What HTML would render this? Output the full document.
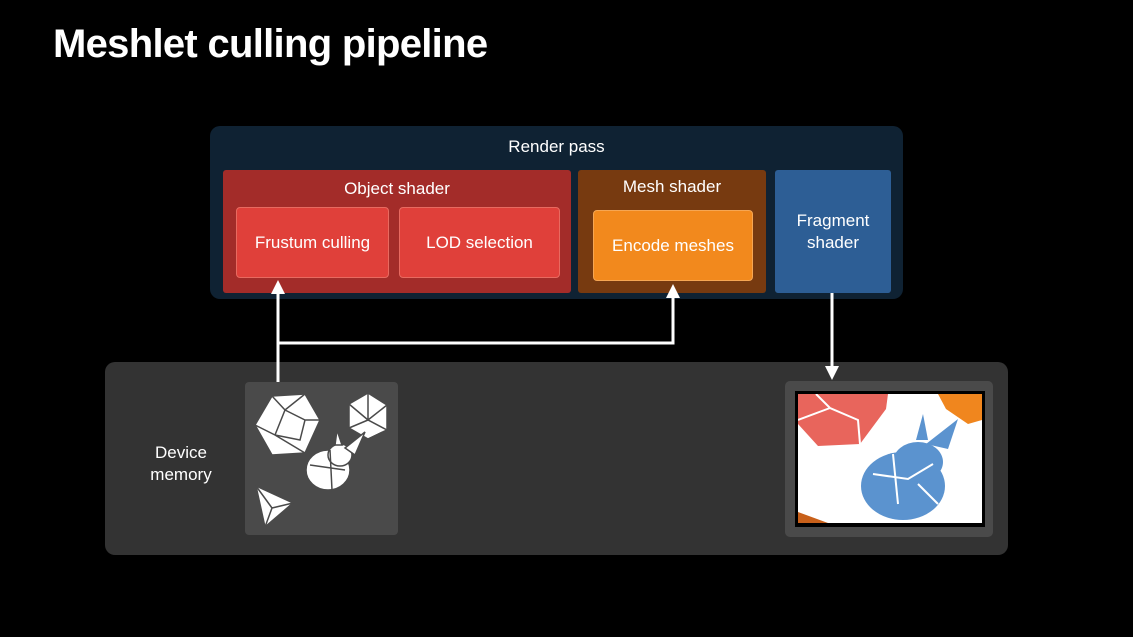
<!DOCTYPE html>
<html><head><style>
body{margin:0;width:1133px;height:637px;background:#000;overflow:hidden;font-family:"Liberation Sans",sans-serif;color:#fff;position:relative}
div{position:absolute;box-sizing:border-box}
.c{display:flex;align-items:center;justify-content:center;text-align:center}
</style></head><body>
<div style="left:53px;top:22px;font-size:40px;font-weight:bold;letter-spacing:-0.7px">Meshlet culling pipeline</div>
<div style="left:210px;top:126px;width:693px;height:173px;background:#0f2233;border-radius:10px"></div>
<div class="c" style="left:210px;top:135px;width:693px;height:24px;font-size:17px">Render pass</div>
<div style="left:223px;top:170px;width:348px;height:123px;background:#a32c29;border-radius:3px"></div>
<div class="c" style="left:223px;top:177px;width:348px;height:24px;font-size:17px">Object shader</div>
<div class="c" style="left:236px;top:207px;width:153px;height:71px;background:#e0403a;border-radius:4px;font-size:17px;border:1px solid #e86a60">Frustum culling</div>
<div class="c" style="left:399px;top:207px;width:161px;height:71px;background:#e0403a;border-radius:4px;font-size:17px;border:1px solid #e86a60">LOD selection</div>
<div style="left:578px;top:170px;width:188px;height:123px;background:#773a10;border-radius:3px"></div>
<div class="c" style="left:578px;top:175px;width:188px;height:24px;font-size:17px">Mesh shader</div>
<div class="c" style="left:593px;top:210px;width:160px;height:71px;background:#f2891d;border-radius:4px;font-size:17px;border:1px solid #f6a653">Encode meshes</div>
<div class="c" style="left:775px;top:170px;width:116px;height:123px;background:#2d5e95;border-radius:3px;font-size:17px;line-height:22px">Fragment<br>shader</div>
<div style="left:105px;top:362px;width:903px;height:193px;background:#333;border-radius:10px"></div>
<div class="c" style="left:125px;top:440px;width:112px;height:48px;font-size:17px;line-height:22px">Device<br>memory</div>
<div style="left:245px;top:382px;width:153px;height:153px;background:#4a4a4a;border-radius:4px"></div>
<div style="left:785px;top:381px;width:208px;height:156px;background:#4a4a4a;border-radius:5px"></div>
<div style="left:795px;top:391px;width:190px;height:136px;background:#000"></div>
<div style="left:798px;top:394px;width:184px;height:129px;background:#fff;overflow:hidden">
<svg width="184" height="129">
<polygon points="0,0 90,0 88,15 62,50 20,52 0,30" fill="#e8655c"/>
<path d="M18,0 L32,14 L60,26 L62,50 M32,14 L0,26" fill="none" stroke="#fff" stroke-width="2"/>
<polygon points="140,0 184,0 184,26 170,30 148,15" fill="#f0861e"/>
<polygon points="0,118 30,129 0,129" fill="#c8601a"/>
<g fill="#5b93cf">
<ellipse cx="105" cy="92" rx="42" ry="34"/>
<ellipse cx="120" cy="68" rx="25" ry="20"/>
<polygon points="118,46 125,20 130,46"/>
<polygon points="128,50 160,25 150,55"/>
</g>
<path d="M75,80 L110,85 L135,70 M95,60 L100,110 M120,90 L140,110" stroke="#fff" stroke-width="2" fill="none"/>
</svg></div>
<svg width="1133" height="637" style="position:absolute;left:0;top:0">
<g fill="#fff" stroke="#fff">
<path d="M278,382 V290 M278,343 H673 V294 M832,293 V368" fill="none" stroke-width="3"/>
<polygon points="271,294 285,294 278,280" stroke="none"/>
<polygon points="666,298 680,298 673,284" stroke="none"/>
<polygon points="825,366 839,366 832,380" stroke="none"/>
</g>
<g fill="#fff" stroke="#4a4a4a" stroke-width="1.5">
<polygon points="272,396 305,394 320,420 305,453 272,455 255,425"/>
<path d="M272,396 L285,410 L305,394 M285,410 L275,435 L255,425 M275,435 L305,453 M285,410 L305,420 L320,420 M305,420 L300,440 L275,435" fill="none"/>
<polygon points="368,393 387,405 387,430 368,439 349,428 349,404"/>
<path d="M349,404 L368,420 L387,405 M368,393 L368,420 M349,428 L368,420 L387,430 L368,439" fill="none"/>
<ellipse cx="328" cy="470" rx="22" ry="20"/>
<ellipse cx="340" cy="455" rx="12" ry="11"/>
<polygon points="335,445 337,430 342,445"/>
<polygon points="345,448 365,432 355,455"/>
<path d="M310,465 L345,470 M330,450 L332,490" fill="none"/>
<polygon points="256,486 293,503 265,527"/>
<path d="M256,486 L272,508 L293,503 M272,508 L265,527" fill="none"/>
</g>
</svg>
</body></html>
